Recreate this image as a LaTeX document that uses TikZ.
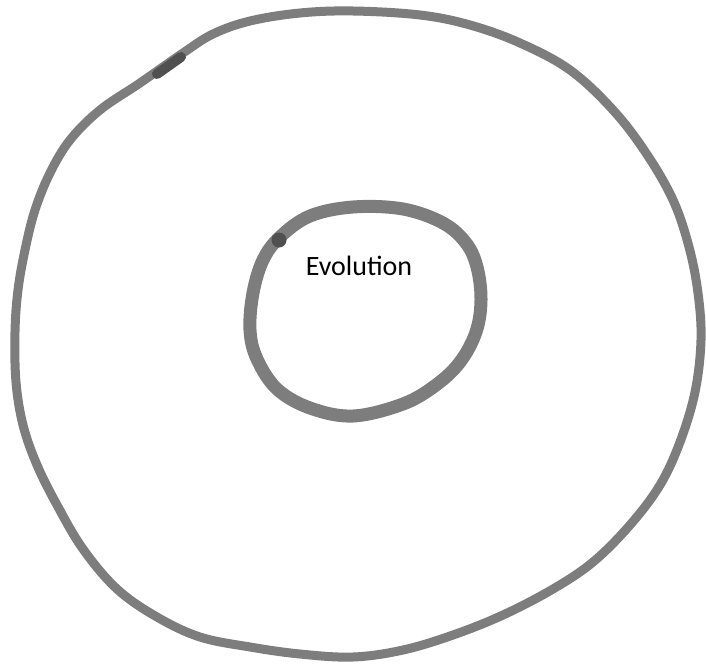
\documentclass[tikz,border=0pt]{standalone}
\usepackage{fontspec}
\setmainfont{Carlito}
\definecolor{pen}{RGB}{125,125,125}
\definecolor{pendark}{RGB}{80,80,80}
\tikzset{
  loopline/.style={draw=pen, line cap=round, line join=round},
  blob/.style={draw=pendark, line cap=round},
  label/.style={font=\fontsize{28}{32}\selectfont, text=black, inner sep=0pt}
}
\begin{document}
\begin{tikzpicture}[x=1pt,y=-1pt]
\useasboundingbox (0,0) rectangle (706,664);
% outer loop
\draw[loopline, line width=9pt] plot[smooth cycle, tension=0.6] coordinates {
 (353,11) (420,15) (470,25) (520,43) (570,70) (613,110) (646,153) (673,200)
 (689,247) (698,293) (701,340) (695,392) (680,442) (660,485) (630,525)
 (593,562) (553,589) (503,615) (453,635) (403,650) (353,657) (300,654)
 (250,647) (200,637) (157,617) (117,589) (83,549) (57,505) (37,465)
 (23,425) (16,382) (15,332) (18,290) (25,250) (35,210) (50,173) (70,140)
 (100,110) (140,83) (183,53) (213,34) (250,21) (300,13)};
% darker pen spot on outer loop
\draw[blob, line width=10pt] (157,74) -- (181,57);
% inner loop
\draw[loopline, line width=13pt] plot[smooth cycle, tension=0.6] coordinates {
 (353,207) (403,209) (443,223) (466,243) (477,267) (481,300) (476,332)
 (460,362) (436,385) (403,404) (353,416) (310,408) (277,389) (257,359)
 (250,330) (253,293) (263,260) (280,237) (310,216)};
% darker pen spot on inner loop
\fill[pendark] (279,240) circle (7.5pt);
\node[label, anchor=base] (evo) at (359,275) {Evolution};
\end{tikzpicture}
\end{document}
